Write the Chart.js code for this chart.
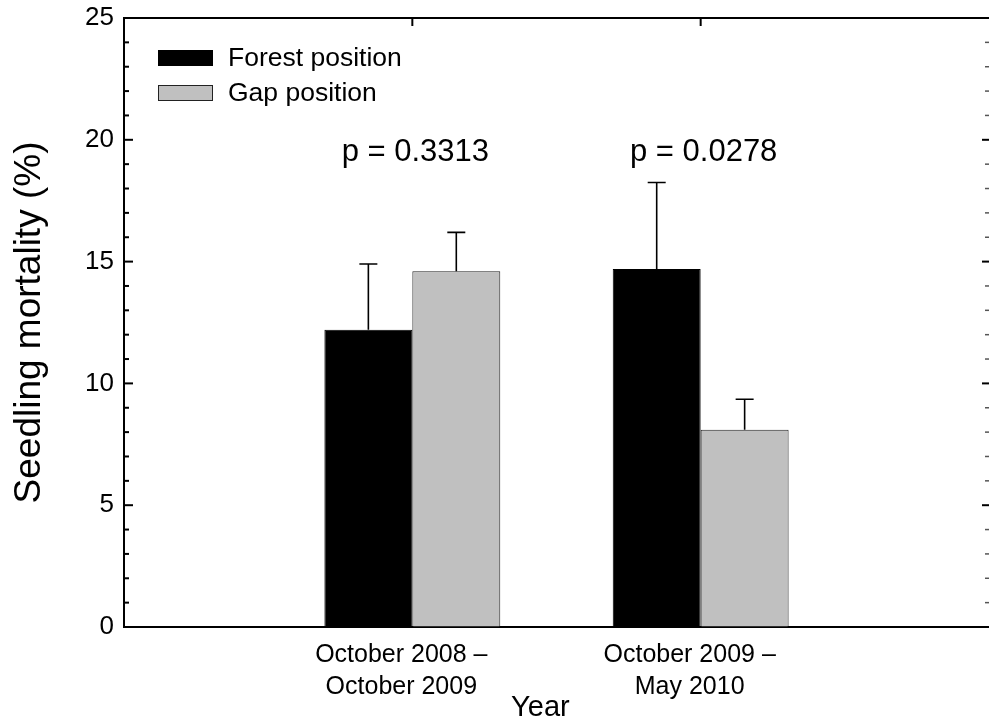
<!DOCTYPE html>
<html>
<head>
<meta charset="utf-8">
<script src="https://cdn.jsdelivr.net/npm/chart.js@4.4.0/dist/chart.umd.min.js"></script>
<style>
  body { margin: 0; background: #fff; }
  canvas { display: block; }
</style>
</head>
<body>
<canvas id="myChart" width="989" height="725"></canvas>
<script>
const periods = [['October 2008 –', 'October 2009'], ['October 2009 –', 'May 2010']]
const forestMortality = [12.2, 14.7]
const gapMortality = [14.6, 8.1]
const forestUpper = [14.9, 18.25]   // top of error bar
const gapUpper = [16.2, 9.35]
const pValues = ['p = 0.3313', 'p = 0.0278']

const FONT = "'Liberation Sans', Arial, sans-serif"

// one empty slot each side so the groups sit at 1/3 and 2/3 of the axis
const xlabels = ['', ...periods, '']
const pad = arr => [null, ...arr, null]

const extras = {
    id: 'extras',
    afterDatasetsDraw(chart) {
        const { ctx, chartArea: area, scales: { x, y } } = chart
        ctx.save()
        ctx.strokeStyle = '#000'

        // error bars (upper only)
        const uppers = [forestUpper, gapUpper]
        ctx.lineWidth = 1.6
        chart.data.datasets.forEach((ds, i) => {
            const meta = chart.getDatasetMeta(i)
            uppers[i].forEach((u, j) => {
                const bar = meta.data[j + 1]
                const top = y.getPixelForValue(u)
                ctx.beginPath()
                ctx.moveTo(bar.x, bar.y)
                ctx.lineTo(bar.x, top)
                ctx.moveTo(bar.x - 9, top)
                ctx.lineTo(bar.x + 9, top)
                ctx.stroke()
            })
        })

        // top border
        ctx.lineWidth = 2
        ctx.beginPath()
        ctx.moveTo(area.left - 1, area.top)
        ctx.lineTo(area.right, area.top)
        ctx.stroke()

        // inward ticks, left and right
        y.ticks.forEach(t => {
            const py = y.getPixelForValue(t.value)
            const major = t.value % 5 === 0
            ctx.lineWidth = 2
            ctx.strokeStyle = '#000'
            ctx.beginPath()
            ctx.moveTo(area.left, py)
            ctx.lineTo(area.left + (major ? 9 : 5), py)
            ctx.stroke()
            ctx.lineWidth = major ? 2 : 1.5
            ctx.strokeStyle = major ? '#000' : '#555'
            ctx.beginPath()
            ctx.moveTo(area.right, py)
            ctx.lineTo(area.right - (major ? 7 : 4), py)
            ctx.stroke()
        })

        // top ticks at the groups
        ctx.lineWidth = 2
        ctx.strokeStyle = '#000'
        periods.forEach((p, j) => {
            const px = x.getPixelForValue(j + 1)
            ctx.beginPath()
            ctx.moveTo(px, area.top)
            ctx.lineTo(px, area.top + 8)
            ctx.stroke()
        })

        // p values
        ctx.fillStyle = '#000'
        ctx.font = '31px ' + FONT
        ctx.textAlign = 'center'
        ctx.textBaseline = 'middle'
        pValues.forEach((p, j) => {
            ctx.fillText(p, x.getPixelForValue(j + 1) + 3, y.getPixelForValue(19.5))
        })

        // legend in the upper left corner
        ctx.font = '26.5px ' + FONT
        ctx.textAlign = 'left'
        chart.data.datasets.forEach((ds, i) => {
            const bx = area.left + 34
            const by = area.top + 32 + i * 35
            ctx.fillStyle = ds.backgroundColor
            ctx.fillRect(bx, by, 55, 16)
            ctx.lineWidth = 1
            ctx.strokeStyle = ds.borderColor
            ctx.strokeRect(bx + 0.5, by + 0.5, 54, 15)
            ctx.fillStyle = '#000'
            ctx.fillText(ds.label, area.left + 104, by + 9)
        })
        ctx.restore()
    }
}

const ctx = document.getElementById('myChart').getContext('2d')
const myChart = new Chart(ctx, {
    type: 'bar',
    data: {
        labels: xlabels,
        datasets: [{
            label: 'Forest position',
            data: pad(forestMortality),
            backgroundColor: '#000',
            borderColor: '#000',
            borderWidth: 1
        }, {
            label: 'Gap position',
            data: pad(gapMortality),
            backgroundColor: '#c0c0c0',
            borderColor: '#222',
            borderWidth: 1
        }]
    },
    options: {
        responsive: false,
        animation: false,
        categoryPercentage: 0.61,
        barPercentage: 1,
        layout: { padding: { top: 18, right: 0, left: 0, bottom: 0 } },
        plugins: {
            legend: { display: false },
            tooltip: { enabled: false }
        },
        scales: {
            x: {
                offset: false,
                grid: { drawOnChartArea: false, drawTicks: false },
                border: { display: true, color: '#000', width: 2 },
                ticks: {
                    autoSkip: false,
                    maxRotation: 0,
                    padding: 12,
                    labelOffset: -11,
                    color: '#000',
                    font: { family: FONT, size: 25, lineHeight: 1.28 }
                },
                title: {
                    display: true,
                    // trailing no-break spaces nudge the title left like the original
                    text: 'Year\u00a0\u00a0\u00a0\u00a0',
                    color: '#000',
                    padding: 0,
                    font: { family: FONT, size: 29 }
                },
                afterFit(scale) {
                    scale.height = 98
                    scale.paddingLeft = 0
                    scale.paddingRight = 0
                }
            },
            y: {
                min: 0,
                max: 25,
                grid: { drawOnChartArea: false, drawTicks: false },
                border: { display: true, color: '#000', width: 2 },
                ticks: {
                    stepSize: 1,
                    autoSkip: false,
                    padding: 10,
                    color: '#000',
                    font: { family: FONT, size: 26 },
                    callback: value => value % 5 === 0 ? value : ''
                },
                title: {
                    display: true,
                    text: 'Seedling mortality (%)',
                    color: '#000',
                    padding: { top: 8, bottom: 0 },
                    font: { family: FONT, size: 37 }
                },
                afterFit(scale) {
                    scale.width = 124
                    scale.paddingTop = 0
                    scale.paddingBottom = 0
                }
            }
        }
    },
    plugins: [extras]
})
</script>
</body>
</html>
